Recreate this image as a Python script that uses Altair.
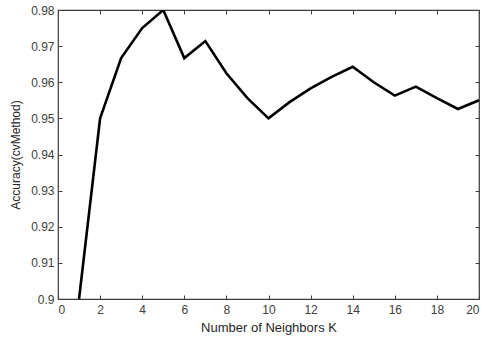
import altair as alt
import pandas as pd

k_values = list(range(1, 21))
accuracy = [0.9000, 0.9500, 0.9667, 0.9750, 0.9800, 0.9667, 0.9714, 0.9625, 0.9556, 0.9500,
            0.9545, 0.9583, 0.9615, 0.9643, 0.9600, 0.9563, 0.9588, 0.9556, 0.9526, 0.9550]
x_ticks = [0, 2, 4, 6, 8, 10, 12, 14, 16, 18, 20]
y_ticks = [0.90, 0.91, 0.92, 0.93, 0.94, 0.95, 0.96, 0.97, 0.98]

df = pd.DataFrame({"K": k_values, "Acc": accuracy})

FONT = "Liberation Sans"
AX = "#404040"
xs = alt.Scale(domain=[0, 20], nice=False, zero=False)
ys = alt.Scale(domain=[0.9, 0.98], nice=False, zero=False)

main = alt.Chart(df).mark_line(color="black", strokeWidth=2.6, clip=True).encode(
    x=alt.X("K:Q", scale=xs, axis=alt.Axis(
        orient="bottom", values=x_ticks, title="Number of Neighbors K", ticks=False,
        domain=False, grid=False, labelPadding=5, labelFont=FONT, labelFontSize=12,
        labelColor=AX, titleFont=FONT, titleFontSize=13, titleFontWeight="normal",
        titleColor="#262626", titlePadding=6)),
    y=alt.Y("Acc:Q", scale=ys, axis=alt.Axis(
        orient="left", values=y_ticks, format=".2~f", title="Accuracy(cvMethod)", ticks=False,
        domain=False, grid=False, labelPadding=4, labelFont=FONT, labelFontSize=12,
        labelColor=AX, titleFont=FONT, titleFontSize=12, titleFontWeight="normal",
        titleColor="#262626", titlePadding=8)),
)

def tick_axes(xo, yo):
    return alt.Chart(df).mark_line(opacity=0).encode(
        x=alt.X("K:Q", scale=xs, axis=alt.Axis(
            orient=xo, values=x_ticks, labels=False, domain=False, grid=False,
            ticks=True, tickSize=4, offset=-4, tickColor=AX, title=None)),
        y=alt.Y("Acc:Q", scale=ys, axis=alt.Axis(
            orient=yo, values=y_ticks, labels=False, domain=False, grid=False,
            ticks=True, tickSize=4, offset=-4, tickColor=AX, title=None)),
    )

chart = alt.layer(main, tick_axes("bottom", "left"), tick_axes("top", "right")).resolve_axis(
    x="independent", y="independent"
).properties(
    width=421, height=289,
    autosize=alt.AutoSizeParams(type="none"),
    padding={"left": 58, "top": 10, "right": 7, "bottom": 44},
    background="white",
).configure_view(stroke="#3a3a3a", strokeWidth=1.2)

chart.save("out.html", embed_options={"renderer": "svg", "actions": False})
